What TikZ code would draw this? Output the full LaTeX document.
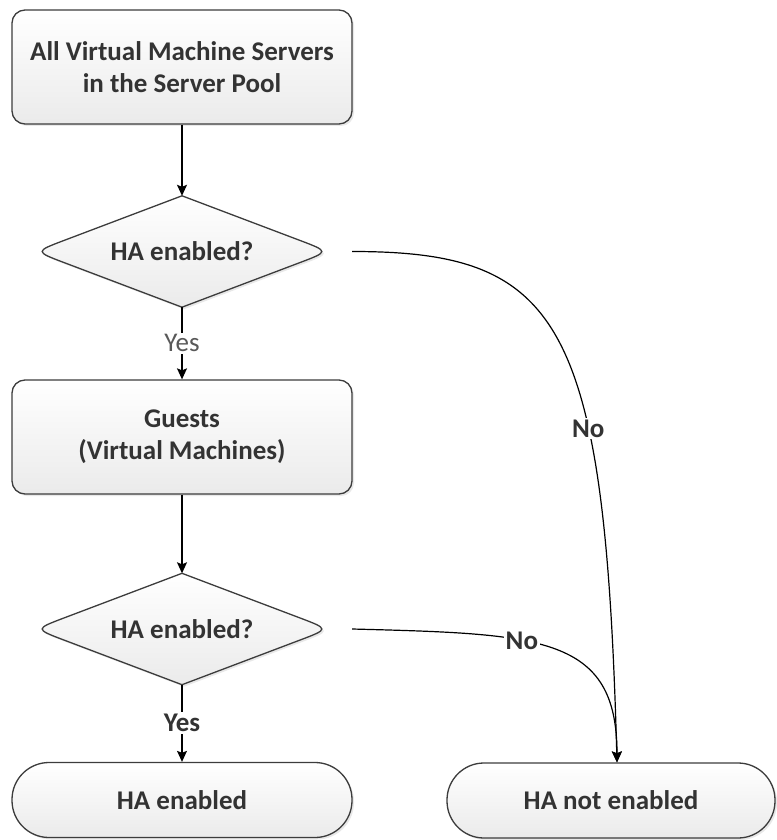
\documentclass[tikz,border=0pt]{standalone}
\usepackage{fontspec}
\setmainfont{Carlito}
\usetikzlibrary{arrows.meta,shadows,calc}
\definecolor{edge}{HTML}{3C3C3C}
\definecolor{txt}{HTML}{333333}
\tikzset{
  base/.style={draw=edge, line width=1.3pt, top color=white, bottom color=black!8,
    drop shadow={opacity=0.18, shadow xshift=2pt, shadow yshift=-2pt},
    text=txt, font=\fontsize{27}{32}\selectfont\bfseries, align=center, inner sep=0pt},
  procbox/.style={base, rectangle, rounded corners=13pt, minimum width=340pt, minimum height=114pt},
  termbox/.style={base, rectangle, rounded corners=37pt, minimum height=75pt},
  decslot/.style={rectangle, minimum width=294pt, minimum height=111pt, inner sep=0pt,
    text=txt, font=\fontsize{27}{32}\selectfont\bfseries},
  decshape/.style={draw=edge, line width=1.3pt, top color=white, bottom color=black!8,
    drop shadow={opacity=0.18, shadow xshift=2pt, shadow yshift=-2pt}},
  conn/.style={draw=black, line width=1.2pt, -{Stealth[length=11pt,width=10pt,inset=2pt]}},
  lbl/.style={fill=white, text=txt, inner sep=2pt, font=\fontsize{27}{30}\selectfont\bfseries},
  lbllight/.style={fill=white, text=black!65, inner sep=2pt, font=\fontsize{27}{30}\selectfont}
}
\newcommand{\decoutline}[1]{%
  \path[decshape]
    (#1.north)
    -- ($(#1.east)!0.2!(#1.north)$) .. controls (#1.east) .. ($(#1.east)!0.2!(#1.south)$)
    -- (#1.south)
    -- ($(#1.west)!0.2!(#1.south)$) .. controls (#1.west) .. ($(#1.west)!0.2!(#1.north)$)
    -- cycle;
}
\begin{document}
\begin{tikzpicture}[x=1pt,y=-1pt]
\useasboundingbox (0,0) rectangle (776,840);
\node[procbox] (srv) at (182,67) {All Virtual Machine Servers\\in the Server Pool};
\node[decslot] (d1) at (182,251.5) {};
\decoutline{d1}
\node[decslot] at (d1) {HA enabled?};
\node[procbox] (guests) at (182,437) {Guests\\(Virtual Machines)};
\node[decslot] (d2) at (182,629) {};
\decoutline{d2}
\node[decslot] at (d2) {HA enabled?};
\node[termbox, minimum width=340pt] (ok) at (182,800) {HA enabled};
\node[termbox, minimum width=328pt] (nok) at (611,800.5) {HA not enabled};
\coordinate (nokin) at ($(nok.north)+(6,0)$);
\coordinate (d1out) at ($(d1.east)+(23,0)$);
\coordinate (d2out) at ($(d2.east)+(23,0)$);

\draw[conn] (srv.south) -- (d1.north);
\draw[conn] (d1.south) -- node[lbllight] {Yes} (guests.north);
\draw[conn] (guests.south) -- (d2.north);
\draw[conn] (d2.south) -- node[lbl] {Yes} (ok.north);
\draw[conn] (d1out) .. controls ($(d1out)+(208,0)$) and ($(nokin)+(-12,-443)$) .. node[lbl, pos=0.66] {No} (nokin);
\draw[conn] (d2out) .. controls ($(d2out)+(188,5)$) and ($(nokin)+(0,-127)$) .. node[lbl, pos=0.385] {No} (nokin);
\end{tikzpicture}
\end{document}
